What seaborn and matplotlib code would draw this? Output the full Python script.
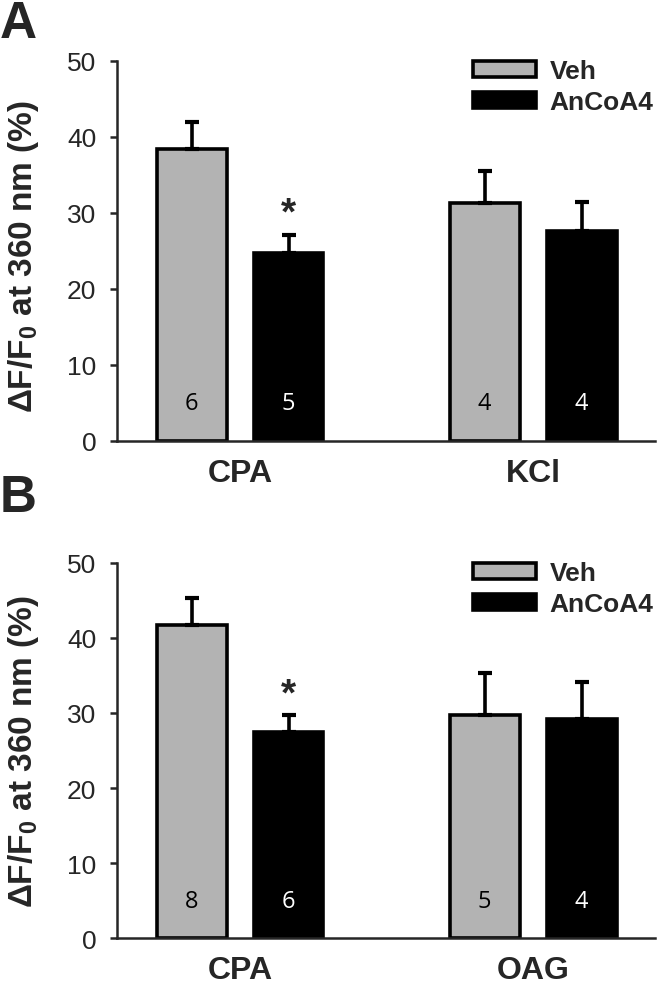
import matplotlib
matplotlib.use("Agg")
import matplotlib.pyplot as plt
import seaborn as sns
import pandas as pd

# groups and colours
groups = ["Veh", "AnCoA4"]
group_colors = ["#b3b3b3", "#000000"]

# panel A
a_stim = ["CPA", "KCl"]
a_veh = [38.4, 31.3]
a_anc = [24.7, 27.6]
a_veh_sem = [3.6, 4.2]
a_anc_sem = [2.4, 3.8]
a_veh_n = [6, 4]
a_anc_n = [5, 4]

# panel B
b_stim = ["CPA", "OAG"]
b_veh = [41.7, 29.7]
b_anc = [27.5, 29.2]
b_veh_sem = [3.6, 5.6]
b_anc_sem = [2.2, 4.9]
b_veh_n = [8, 5]
b_anc_n = [6, 4]

sns.set_style("ticks")
plt.rcParams["font.family"] = ["Liberation Sans", "DejaVu Sans"]
plt.rcParams["mathtext.fontset"] = "custom"
plt.rcParams["mathtext.bf"] = "Liberation Sans:bold"
plt.rcParams["mathtext.rm"] = "Liberation Sans:bold"
plt.rcParams["mathtext.default"] = "bf"


def draw_panel(ax, stim, veh, anc, veh_sem, anc_sem, veh_n, anc_n):
    df = pd.DataFrame({
        "stim": stim + stim,
        "group": ["Veh"] * len(stim) + ["AnCoA4"] * len(stim),
        "value": veh + anc,
    })
    sns.barplot(data=df, x="stim", y="value", hue="group", hue_order=groups,
                palette=group_colors, saturation=1, errorbar=None,
                width=0.662, gap=0.28, edgecolor="black", linewidth=2.6,
                ax=ax)

    # upward-only SEM bars and n counts
    for cont, sems, ns, tcol in zip(ax.containers, [veh_sem, anc_sem],
                                    [veh_n, anc_n], ["black", "white"]):
        for bar, s, n in zip(cont, sems, ns):
            x = bar.get_x() + bar.get_width() / 2
            h = bar.get_height()
            ax.errorbar(x, h, yerr=[[0], [s]], color="black", lw=2.6,
                        capsize=5, capthick=3, zorder=1)
            ax.text(x, 5, str(n), ha="center", va="center", color=tcol,
                    fontsize=17, family=["Open Sans", "DejaVu Sans"])

    # significance star over AnCoA4 CPA
    star_bar = ax.containers[1][0]
    sx = star_bar.get_x() + star_bar.get_width() / 2
    ax.text(sx, star_bar.get_height() + anc_sem[0] + 2.8, "*", ha="center",
            va="center", fontsize=28, fontweight="bold")

    ax.set_ylim(0, 50)
    ax.set_yticks([0, 10, 20, 30, 40, 50])
    ax.set_xlim(-0.42, 1.416)
    ax.set_xlabel("")
    ax.set_ylabel("")
    for sp in ["top", "right"]:
        ax.spines[sp].set_visible(False)
    ax.spines["left"].set_linewidth(1.8)
    ax.spines["bottom"].set_linewidth(1.8)
    ax.tick_params(axis="y", length=5, width=1.8, labelsize=19, pad=10)
    ax.tick_params(axis="x", length=0, labelsize=23, pad=12)
    for lab in ax.get_xticklabels():
        lab.set_fontweight("bold")

    handles, labels = ax.get_legend_handles_labels()
    ax.legend(handles, labels, loc="upper left", bbox_to_anchor=(0.662, 1.005),
              frameon=False, prop={"weight": "bold", "size": 19},
              handlelength=2.4, handleheight=0.55, handletextpad=0.5,
              labelspacing=0.28, borderpad=0, borderaxespad=0)


fig = plt.figure(figsize=(6.6, 9.87), dpi=100)
ax_a = fig.add_axes([0.1773, 0.5522, 0.8151, 0.385])
ax_b = fig.add_axes([0.1773, 0.0486, 0.8151, 0.380])

draw_panel(ax_a, a_stim, a_veh, a_anc, a_veh_sem, a_anc_sem, a_veh_n, a_anc_n)
draw_panel(ax_b, b_stim, b_veh, b_anc, b_veh_sem, b_anc_sem, b_veh_n, b_anc_n)

ylab = "ΔF/F$_0$ at 360 nm (%)"
fig.text(0.036, 1 - 257 / 987, ylab, rotation=90, ha="center", va="center",
         fontsize=24, fontweight="bold")
fig.text(0.036, 1 - 752 / 987, ylab, rotation=90, ha="center", va="center",
         fontsize=24, fontweight="bold")

fig.text(0.0, 1 - 0 / 987, "A", ha="left", va="top", fontsize=37,
         fontweight="bold")
fig.text(0.0, 1 - 474 / 987, "B", ha="left", va="top", fontsize=37,
         fontweight="bold")

fig.savefig("out.png", dpi=100)
